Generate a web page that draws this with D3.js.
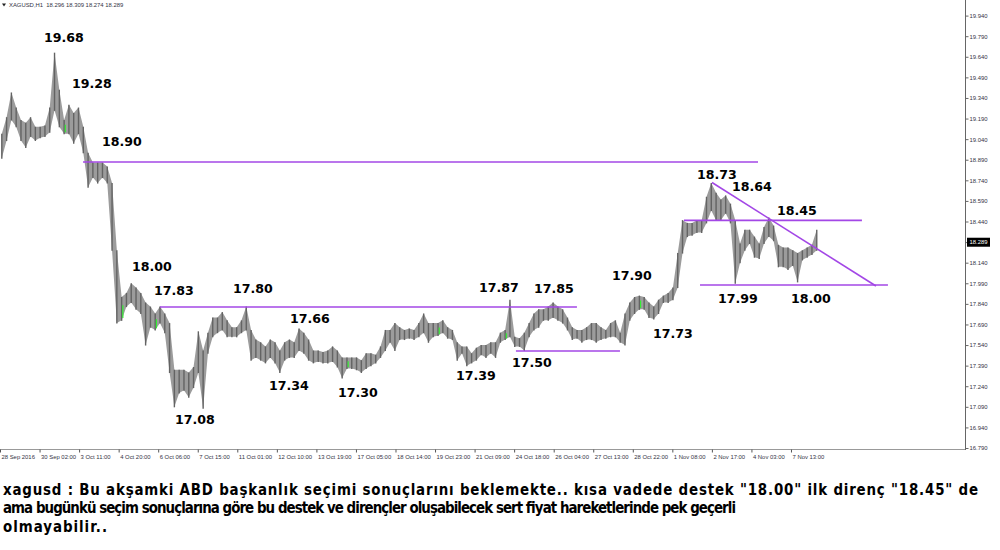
<!DOCTYPE html>
<html><head><meta charset="utf-8">
<script src="https://cdn.jsdelivr.net/npm/d3@7"></script>
<style>html,body{margin:0;padding:0;background:#fff;} svg{display:block;}</style>
</head><body>
<svg id="c" width="1000" height="550"></svg>
<script>
// ---------- DATA (XAGUSD H1; each entry = 4 hourly bars) ----------
const groupHigh = [
 19.08,19.20,19.38,19.27,19.18,19.16,19.20,19.13,19.13,19.14,
 19.27,19.67,19.40,19.18,19.29,19.23,19.27,19.13,18.94,18.87,
 18.87,18.87,18.84,18.72,18.23,17.89,17.92,17.99,17.96,17.92,
 17.85,17.82,17.77,17.82,17.77,17.70,17.36,17.36,17.36,17.34,
 17.38,17.64,17.50,17.63,17.74,17.74,17.78,17.72,17.67,17.67,
 17.72,17.82,17.65,17.58,17.56,17.53,17.58,17.56,17.50,17.56,
 17.58,17.56,17.66,17.63,17.58,17.50,17.50,17.49,17.50,17.53,
 17.50,17.45,17.45,17.45,17.45,17.43,17.48,17.48,17.47,17.53,
 17.65,17.65,17.70,17.67,17.65,17.66,17.65,17.70,17.77,17.70,
 17.70,17.70,17.72,17.67,17.65,17.56,17.53,17.53,17.48,17.52,
 17.54,17.54,17.56,17.56,17.63,17.65,17.87,17.60,17.59,17.63,
 17.70,17.77,17.80,17.80,17.82,17.85,17.82,17.80,17.74,17.67,
 17.65,17.65,17.67,17.70,17.70,17.67,17.65,17.70,17.72,17.63,
 17.77,17.85,17.89,17.90,17.89,17.85,17.82,17.87,17.90,17.92,
 17.96,18.21,18.45,18.43,18.43,18.45,18.45,18.62,18.72,18.65,
 18.60,18.63,18.57,18.45,18.28,18.38,18.38,18.33,18.28,18.40,
 18.47,18.41,18.27,18.25,18.25,18.23,18.21,18.23,18.25,18.27,
 18.38
];
const groupLow = [
 18.90,19.03,19.18,19.13,19.03,18.98,19.06,19.03,19.05,19.06,
 19.09,19.25,19.13,19.08,19.08,19.01,19.08,18.94,18.69,18.76,
 18.72,18.76,18.72,18.23,17.70,17.72,17.82,17.85,17.80,17.77,
 17.54,17.67,17.65,17.70,17.63,17.34,17.09,17.19,17.21,17.16,
 17.23,17.34,17.08,17.48,17.60,17.63,17.65,17.60,17.60,17.60,
 17.63,17.65,17.43,17.45,17.43,17.41,17.45,17.41,17.34,17.43,
 17.45,17.45,17.50,17.48,17.43,17.41,17.42,17.41,17.41,17.42,
 17.38,17.30,17.37,17.37,17.36,17.34,17.37,17.39,17.41,17.45,
 17.50,17.56,17.50,17.58,17.58,17.59,17.58,17.60,17.63,17.56,
 17.60,17.61,17.63,17.59,17.58,17.43,17.48,17.39,17.41,17.43,
 17.47,17.45,17.48,17.45,17.56,17.58,17.60,17.53,17.53,17.50,
 17.60,17.65,17.67,17.72,17.72,17.74,17.72,17.70,17.65,17.58,
 17.59,17.56,17.58,17.58,17.56,17.58,17.59,17.60,17.60,17.56,
 17.54,17.72,17.77,17.80,17.80,17.74,17.73,17.77,17.85,17.85,
 17.87,17.96,18.21,18.33,18.34,18.36,18.36,18.43,18.52,18.45,
 18.45,18.50,18.43,17.99,18.14,18.23,18.28,18.18,18.17,18.28,
 18.33,18.30,18.11,18.11,18.09,18.12,18.00,18.16,18.18,18.20,
 18.23
];
const greenGroups = [13,25,32,72,91,105,133];
const barsPerGroup = 4;
const lastClose = 18.289;
const symbol = "XAGUSD,H1";
const lastOHLC = ["18.296","18.309","18.274","18.289"];

const priceTicks = [16.79,16.94,17.09,17.24,17.39,17.54,17.69,17.84,17.99,18.14,18.29,18.44,18.59,18.74,18.89,19.04,19.19,19.34,19.49,19.64,19.79,19.94];
const timeLabels = ["28 Sep 2016","30 Sep 02:00","3 Oct 11:00","4 Oct 20:00","6 Oct 06:00","7 Oct 15:00",
 "11 Oct 01:00","12 Oct 10:00","13 Oct 19:00","17 Oct 05:00","18 Oct 14:00","19 Oct 23:00","21 Oct 09:00",
 "24 Oct 18:00","26 Oct 04:00","27 Oct 13:00","28 Oct 22:00","1 Nov 08:00","2 Nov 17:00","4 Nov 03:00","7 Nov 13:00"];
const barsPerTimeLabel = 33;

// drawn lines (bar index, price)
const levelLines = [
 {b0:69.3,  p0:18.873, b1:632.5, p1:18.873},
 {b0:133.5, p0:17.817, b1:481.4, p1:17.817},
 {b0:430.5, p0:17.497, b1:517.3, p1:17.497},
 {b0:570.7, p0:18.448, b1:719.2, p1:18.448},
 {b0:584.1, p0:17.977, b1:740.9, p1:17.977},
 {b0:594.1, p0:18.724, b1:730.9, p1:17.970}
];
// annotation labels anchored at (bar index, price)
const annotations = [
 {t:"19.68", b:36.7,  p:19.747},
 {t:"19.28", b:60.1,  p:19.412},
 {t:"18.90", b:85.1,  p:18.990},
 {t:"18.00", b:110.1, p:18.079},
 {t:"17.83", b:128.5, p:17.904},
 {t:"17.80", b:194.4, p:17.919},
 {t:"17.66", b:242.0, p:17.700},
 {t:"17.34", b:224.4, p:17.212},
 {t:"17.30", b:282.0, p:17.161},
 {t:"17.08", b:146.0, p:16.965},
 {t:"17.39", b:380.5, p:17.285},
 {t:"17.87", b:399.7, p:17.926},
 {t:"17.85", b:445.6, p:17.919},
 {t:"17.50", b:427.2, p:17.380},
 {t:"17.90", b:510.6, p:18.014},
 {t:"17.73", b:544.9, p:17.591},
 {t:"18.73", b:581.6, p:18.749},
 {t:"18.64", b:610.8, p:18.662},
 {t:"18.45", b:648.3, p:18.487},
 {t:"17.99", b:599.1, p:17.846},
 {t:"18.00", b:660.0, p:17.846}
];
const commentLines = [
 'xagusd : Bu akşamki ABD başkanlık seçimi sonuçlarını beklemekte.. kısa vadede destek "18.00" ilk direnç "18.45" de',
 'ama bugünkü seçim sonuçlarına göre bu destek ve dirençler oluşabilecek sert fiyat hareketlerinde pek geçerli',
 'olmayabilir..'
];

// ---------- LAYOUT ----------
const plotRight = 965, plotBottom = 449;
const visibleBars = 805.2;
const svg = d3.select("#c");
const x = d3.scaleLinear().domain([0, visibleBars]).range([0, plotRight]);
const y = d3.scaleLinear().domain([16.79, 19.94]).range([448, 15.6]);
const smallFont = "'Liberation Sans', Arial, sans-serif";

// price bars
const bars = groupHigh.map((h,i)=>({i, h, l:groupLow[i]}));
const cx = d => x(d.i*barsPerGroup+1.5);
svg.append("path").datum(bars)
  .attr("d", d3.area().x(cx).y0(d=>y(d.l)).y1(d=>y(d.h)).curve(d3.curveLinear))
  .attr("fill", "#9c9c9c");
svg.append("g").selectAll("line").data(bars).join("line")
  .attr("x1", cx).attr("x2", cx)
  .attr("y1", d=>y(d.h)).attr("y2", d=>y(d.l)+0.5)
  .attr("stroke", "#636363").attr("stroke-width", 1.4);
svg.append("g").selectAll("line").data(bars.filter(d=>greenGroups.includes(d.i))).join("line")
  .attr("x1", d=>cx(d)+1.2).attr("x2", d=>cx(d)+1.2)
  .attr("y1", d=>y(d.h)+ (y(d.l)-y(d.h))*0.35).attr("y2", d=>y(d.l)-(y(d.l)-y(d.h))*0.1)
  .attr("stroke", "#33ee33").attr("stroke-width", 1.2);

// purple lines
svg.append("g").selectAll("line").data(levelLines).join("line")
  .attr("x1", d=>x(d.b0)).attr("y1", d=>y(d.p0))
  .attr("x2", d=>x(d.b1)).attr("y2", d=>y(d.p1))
  .attr("stroke", "#a347e6").attr("stroke-width", 1.6);

// annotations
svg.append("g").selectAll("text").data(annotations).join("text")
  .attr("x", d=>x(d.b)).attr("y", d=>y(d.p))
  .attr("font-family", "'DejaVu Sans', Verdana, sans-serif").attr("font-weight", "bold")
  .attr("font-size", 12.6).attr("fill", "#000").text(d=>d.t);

// frame lines
svg.append("line").attr("x1",0).attr("x2",plotRight).attr("y1",plotBottom+0.5).attr("y2",plotBottom+0.5)
  .attr("stroke","#999").attr("stroke-width",1);
svg.append("line").attr("x1",plotRight+0.5).attr("x2",plotRight+0.5).attr("y1",0).attr("y2",plotBottom+1)
  .attr("stroke","#666").attr("stroke-width",1);

// right price axis
const yAxis = d3.axisRight(y).tickValues(priceTicks).tickFormat(d3.format(".3f")).tickSize(3).tickPadding(1).tickSizeOuter(0);
const ya = svg.append("g").attr("transform", `translate(${plotRight+0.5},0)`).call(yAxis);
ya.select(".domain").remove();
ya.selectAll(".tick line").attr("stroke","#666");
ya.selectAll(".tick text").attr("font-family", smallFont).attr("font-size", 5.9).attr("fill","#334");

// last price marker
const lp = svg.append("g").attr("transform", `translate(${plotRight+2},${y(lastClose)})`);
lp.append("rect").attr("x",0).attr("y",-4.5).attr("width",23).attr("height",9).attr("fill","#000");
lp.append("text").attr("x",2.5).attr("y",2.2).attr("font-family",smallFont).attr("font-size",5.9)
  .attr("fill","#fff").text(d3.format(".3f")(lastClose));

// bottom time axis
const tickBars = timeLabels.map((_,i)=>i*barsPerTimeLabel);
const xAxis = d3.axisBottom(x).tickValues(tickBars).tickFormat((d,i)=>timeLabels[i]).tickSize(3).tickPadding(2).tickSizeOuter(0);
const xa = svg.append("g").attr("transform", `translate(0,${plotBottom+0.5})`).call(xAxis);
xa.select(".domain").remove();
xa.selectAll(".tick line").attr("stroke","#555");
xa.selectAll(".tick text").attr("text-anchor","start").attr("dx", 1)
  .attr("font-family", smallFont).attr("font-size", 5.9).attr("fill","#334");

// header
svg.append("path").attr("d","M2,3.5 L6,3.5 L4,6.5 Z").attr("fill","#222");
svg.append("text").attr("x",9).attr("y",7).attr("font-family",smallFont).attr("font-size",5.9)
  .attr("fill","#334").attr("xml:space","preserve")
  .text(symbol + "  " + lastOHLC.join(" "));

// comment text: narrow the font horizontally like Tahoma, then fit each line by spacing
const lineWidths = [975, 733, 104];
const cg = svg.append("g");
const ct = cg.selectAll("text").data(commentLines).join("text")
  .attr("x", 0).attr("y", (d,i)=>495 + i*18.5)
  .attr("font-family", "'DejaVu Sans', Verdana, sans-serif").attr("font-weight","bold")
  .attr("font-size", 15.5).attr("fill","#000")
  .text(d=>d);
const nat = ct.nodes().map(n=>n.getComputedTextLength());
const sx = d3.sum(lineWidths) / d3.sum(nat);
cg.attr("transform", `translate(3,0) scale(${sx},1)`);
ct.attr("textLength", (d,i)=>lineWidths[i]/sx).attr("lengthAdjust","spacing");
</script>
</body></html>
